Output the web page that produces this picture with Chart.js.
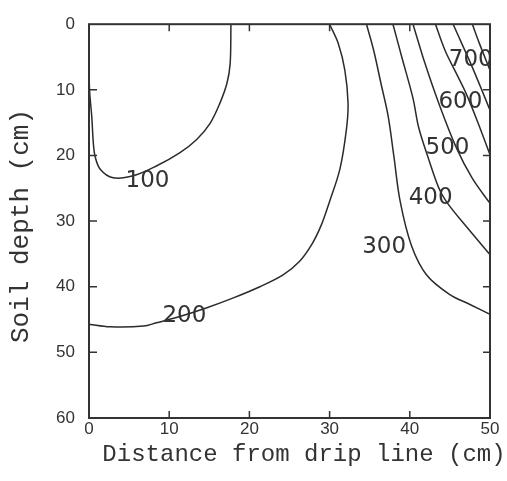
<!DOCTYPE html>
<html>
<head>
<meta charset="utf-8">
<script src="https://cdn.jsdelivr.net/npm/chart.js@4.4.0/dist/chart.umd.min.js"></script>
<style>
  html, body { margin: 0; padding: 0; background: #fff; }
  #wrap { width: 507px; height: 481px; }
</style>
</head>
<body>
<div id="wrap"><canvas id="chart" width="507" height="481"></canvas></div>
<script>
// contour lines, x = distance from drip line (cm), y = soil depth (cm)
const c100x = [17.7, 17.6, 17.2, 16.3, 15.1, 13.4, 11.3, 8.4, 5.5, 3.0, 1.4, 0.75, 0.54, 0.34, 0.12, 0];
const c100y = [0, 6, 9, 12.1, 15.1, 17.6, 19.6, 21.6, 23.1, 23.4, 22.1, 20.1, 18.1, 14, 11, 8];

const c200x = [30.0, 31.1, 31.9, 32.3, 32.1, 31.3, 30.0, 29.0, 27.8, 26.2, 24.2, 21.3, 18.0, 14.7, 10.9, 8.4, 6.8, 2.6, 0];
const c200y = [0, 3, 7, 12, 16, 22, 27, 30.5, 33.5, 36.2, 38.2, 40.0, 41.7, 43.2, 44.7, 45.5, 46.0, 46.1, 45.7];

const c300x = [34.6, 35.5, 36.4, 37.3, 38.0, 38.8, 40.2, 42.1, 45.0, 47.5, 50];
const c300y = [0, 4, 9, 14, 20, 27, 33.7, 38.2, 41.2, 42.7, 44.2];

const c400x = [37.9, 39.0, 40.4, 41.1, 42.2, 43.6, 44.6, 47.1, 50];
const c400y = [0, 5, 11.3, 15.7, 20, 24.9, 27.1, 30.9, 35.1];

const c500x = [40.4, 41.9, 43.6, 45.8, 47.8, 50];
const c500y = [0, 6, 12, 18.8, 23.5, 27.3];

const c600x = [43.2, 44.4, 45.8, 47.0, 48.5, 50];
const c600y = [0, 4, 7.5, 10.5, 15, 19.9];

const c700x = [45.4, 46.5, 47.6, 48.8, 50];
const c700y = [0, 3, 6, 9.5, 13.1];

const c800x = [47.8, 48.7, 50];
const c800y = [0, 3, 7.0];

// contour labels
const labelText = ["100", "200", "300", "400", "500", "600", "700"];
const labelX = [7.3, 11.9, 36.8, 42.6, 44.7, 46.3, 47.6];
const labelY = [23.9, 44.4, 33.9, 26.5, 18.8, 11.9, 5.4];

const xTicks = [0, 10, 20, 30, 40, 50];
const yTicks = [0, 10, 20, 30, 40, 50, 60];

const lineColor = "#2b2b2b";

function toPoints(xs, ys) {
    const pts = [];
    for (let i = 0; i < xs.length; i++) {
        pts.push({x: xs[i], y: ys[i]});
    }
    return pts;
}

const contours = [
    [c100x, c100y], [c200x, c200y], [c300x, c300y], [c400x, c400y],
    [c500x, c500y], [c600x, c600y], [c700x, c700y], [c800x, c800y]
];

const datasets = contours.map(function (c) {
    return {
        data: toPoints(c[0], c[1]),
        showLine: true,
        borderColor: lineColor,
        borderWidth: 1.5,
        pointRadius: 0,
        fill: false,
        tension: 0.35,
    };
});

// frame, inward ticks, contour labels and axis titles
const decorations = {
    id: "decorations",
    afterDatasetsDraw(chart) {
        const ctx = chart.ctx;
        const a = chart.chartArea;
        const xs = chart.scales.x;
        const ys = chart.scales.y;

        // labels on the contours
        ctx.save();
        ctx.beginPath();
        ctx.rect(a.left, a.top, a.right - a.left, a.bottom - a.top);
        ctx.clip();
        ctx.font = "23px 'DejaVu Sans'";
        ctx.fillStyle = "#333";
        ctx.textAlign = "center";
        ctx.textBaseline = "middle";
        for (let i = 0; i < labelText.length; i++) {
            ctx.fillText(labelText[i], xs.getPixelForValue(labelX[i]), ys.getPixelForValue(labelY[i]));
        }
        ctx.restore();

        ctx.save();
        ctx.strokeStyle = "#333";
        ctx.lineWidth = 2;
        ctx.strokeRect(a.left, a.top, a.right - a.left, a.bottom - a.top);

        ctx.lineWidth = 1.5;
        ctx.beginPath();
        xTicks.forEach(function (v) {
            if (v === 0 || v === 50) return;
            const px = xs.getPixelForValue(v);
            ctx.moveTo(px, a.bottom);
            ctx.lineTo(px, a.bottom - 7);
            ctx.moveTo(px, a.top);
            ctx.lineTo(px, a.top + 7);
        });
        yTicks.forEach(function (v) {
            if (v === 0 || v === 60) return;
            const py = ys.getPixelForValue(v);
            ctx.moveTo(a.left, py);
            ctx.lineTo(a.left + 8, py);
            ctx.moveTo(a.right, py);
            ctx.lineTo(a.right - 7, py);
        });
        ctx.stroke();

        // axis titles
        ctx.fillStyle = "#333";
        ctx.textAlign = "center";
        ctx.textBaseline = "middle";
        ctx.font = "24px 'Liberation Mono'";
        ctx.fillText("Distance from drip line (cm)", 304, 455);
        ctx.translate(21, 226);
        ctx.rotate(-Math.PI / 2);
        ctx.font = "26px 'Liberation Mono'";
        ctx.fillText("Soil depth (cm)", 0, 0);
        ctx.restore();
    }
};

window.addEventListener("load", function () {
    const chartCanvas = document.getElementById("chart");
    new Chart(chartCanvas, {
        type: "scatter",
        data: {datasets: datasets},
        plugins: [decorations],
        options: {
            responsive: false,
            animation: false,
            devicePixelRatio: 1,
            layout: {padding: {left: 0, right: 17, top: 20, bottom: 0}},
            plugins: {
                legend: {display: false},
                tooltip: {enabled: false},
            },
            scales: {
                x: {
                    type: "linear",
                    min: 0,
                    max: 50,
                    afterBuildTicks: function (scale) {
                        scale.ticks = xTicks.map(function (v) { return {value: v}; });
                    },
                    afterFit: function (scale) { scale.height = 63; },
                    grid: {display: false, drawTicks: false},
                    border: {display: false},
                    ticks: {
                        color: "#333",
                        padding: 1,
                        maxRotation: 0,
                        font: {family: "'Liberation Sans'", size: 17},
                    },
                },
                y: {
                    type: "linear",
                    reverse: true,
                    min: 0,
                    max: 60,
                    afterBuildTicks: function (scale) {
                        scale.ticks = yTicks.map(function (v) { return {value: v}; });
                    },
                    afterFit: function (scale) { scale.width = 89; },
                    grid: {display: false, drawTicks: false},
                    border: {display: false},
                    ticks: {
                        color: "#333",
                        padding: 14,
                        font: {family: "'Liberation Sans'", size: 17},
                    },
                },
            },
        },
    });
});
</script>
</body>
</html>
